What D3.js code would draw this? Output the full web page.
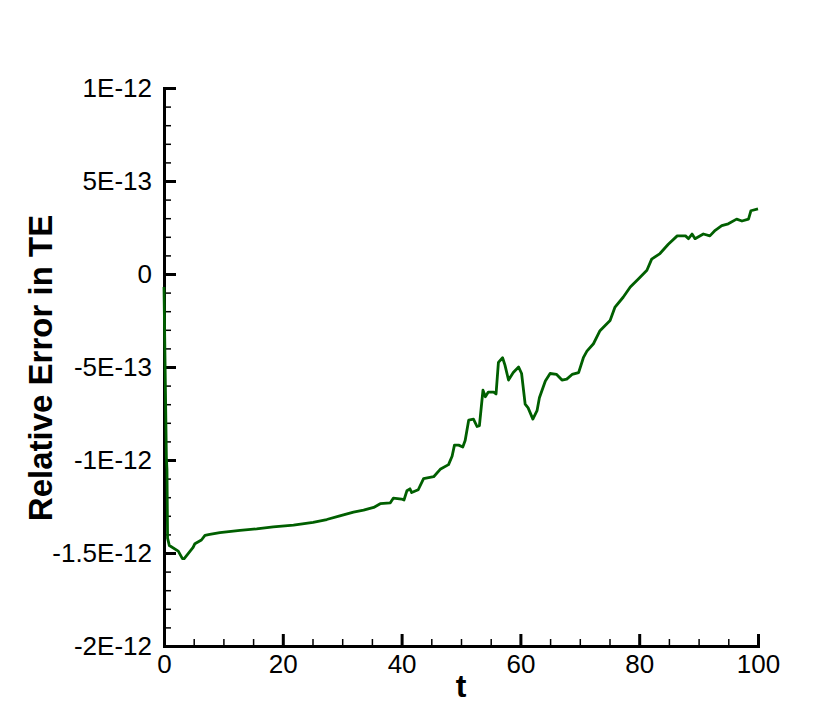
<!DOCTYPE html>
<html>
<head>
<meta charset="utf-8">
<script src="https://cdn.jsdelivr.net/npm/d3@7"></script>
<style>
    body { margin: 0; background: #fff; }
    svg text { font-family: "Liberation Sans", Arial, sans-serif; }
</style>
</head>
<body>
<div id="chart"></div>
<script>
// Time values (t)
const tValues = [0, 0.4, 0.5, 0.6, 0.9, 2.4, 3.1, 3.4, 4.4, 4.9, 5.2, 6.3, 6.9, 7.7, 9.4,
    12.8, 15.6, 18.4, 21.8, 25.1, 27.4, 29.6, 31.9, 33.6, 35.3, 36.4, 38.1, 38.6, 40.0,
    40.4, 40.9, 41.4, 41.7, 42.8, 43.7, 45.4, 46.5, 47.9, 48.5, 48.9, 49.6, 50.3, 50.7,
    51.3, 52.1, 52.7, 53.1, 53.7, 54.1, 54.6, 55.5, 55.9, 56.3, 57.0, 57.4, 58.0, 58.8,
    59.7, 60.2, 60.8, 61.3, 62.1, 62.8, 63.2, 64.2, 65.0, 66.1, 67.0, 67.8, 68.7, 69.8,
    70.6, 71.2, 72.3, 73.4, 75.1, 75.9, 77.3, 78.5, 79.9, 81.3, 82.1, 83.5, 84.9, 86.4,
    87.8, 88.3, 88.9, 89.4, 90.8, 91.9, 92.8, 93.9, 95.0, 96.4, 97.3, 98.4, 98.8, 100];

// Relative error in TE, in units of 1E-13
const errValues = [-0.7, -9.9, -10.5, -14.2, -14.6, -14.9, -15.3, -15.3, -14.9, -14.7, -14.5, -14.3, -14.05, -14.0, -13.9,
    -13.78, -13.7, -13.6, -13.5, -13.35, -13.2, -13.0, -12.8, -12.7, -12.55, -12.35, -12.3, -12.05, -12.1,
    -12.15, -11.65, -11.55, -11.75, -11.6, -11.0, -10.9, -10.5, -10.25, -9.8, -9.2, -9.2, -9.3, -8.95,
    -7.85, -7.8, -8.2, -8.15, -6.25, -6.6, -6.35, -6.35, -6.45, -4.75, -4.5, -4.9, -5.7, -5.3,
    -5.0, -5.35, -7.0, -7.2, -7.8, -7.35, -6.65, -5.75, -5.35, -5.4, -5.7, -5.65, -5.4, -5.3,
    -4.5, -4.15, -3.75, -3.05, -2.5, -1.8, -1.25, -0.7, -0.25, 0.2, 0.8, 1.1, 1.6, 2.05,
    2.05, 1.9, 2.15, 1.9, 2.15, 2.05, 2.35, 2.6, 2.7, 2.95, 2.85, 2.95, 3.4, 3.5];

// Axis ticks
const xTicks = [0, 20, 40, 60, 80, 100];
const xMinorTicks = d3.range(0, 101, 5);
const yTicks = [10, 5, 0, -5, -10, -15, -20];
const yTickLabels = ["1E-12", "5E-13", "0", "-5E-13", "-1E-12", "-1.5E-12", "-2E-12"];
const yMinorTicks = d3.range(-20, 11, 1);

const totalWidth = 818, totalHeight = 727;
const margin = {top: 88, right: 60, bottom: 81, left: 164};
const width = totalWidth - margin.left - margin.right;
const height = totalHeight - margin.top - margin.bottom;

const svg = d3.select("#chart")
    .append("svg")
    .attr("width", totalWidth)
    .attr("height", totalHeight)
    .append("g")
    .attr("transform", `translate(${margin.left},${margin.top})`);

const xScale = d3.scaleLinear().domain([0, 100]).range([0, width]);
const yScale = d3.scaleLinear().domain([-20, 10]).range([height, 0]);

// Minor ticks (pointing inward)
svg.append("g")
    .attr("transform", `translate(0,${height})`)
    .call(d3.axisBottom(xScale).tickValues(xMinorTicks).tickSize(-7).tickFormat(""))
    .call(g => g.select(".domain").remove())
    .call(g => g.selectAll("line").attr("stroke", "#000").attr("stroke-width", 1.5));

svg.append("g")
    .call(d3.axisLeft(yScale).tickValues(yMinorTicks).tickSize(-7).tickFormat(""))
    .call(g => g.select(".domain").remove())
    .call(g => g.selectAll("line").attr("stroke", "#000").attr("stroke-width", 1.5));

// Major ticks and labels
svg.append("g")
    .attr("transform", `translate(0,${height})`)
    .call(d3.axisBottom(xScale).tickValues(xTicks).tickSizeInner(-12).tickSizeOuter(0).tickPadding(9)
        .tickFormat(d3.format("d")))
    .call(g => g.select(".domain").attr("stroke-width", 3).attr("stroke-linecap", "square"))
    .call(g => g.selectAll("line").attr("stroke-width", 3))
    .call(g => g.selectAll("text").attr("fill", "#000").style("font-size", "26px"));

svg.append("g")
    .call(d3.axisLeft(yScale).tickValues(yTicks).tickSizeInner(-12).tickSizeOuter(0).tickPadding(12)
        .tickFormat((d, i) => yTickLabels[i]))
    .call(g => g.select(".domain").attr("stroke-width", 3).attr("stroke-linecap", "square"))
    .call(g => g.selectAll("line").attr("stroke-width", 3))
    .call(g => g.selectAll("text").attr("fill", "#000").style("font-size", "26px"));

// Data line
const line = d3.line()
    .x((d, i) => xScale(tValues[i]))
    .y(d => yScale(d));

svg.append("path")
    .datum(errValues)
    .attr("fill", "none")
    .attr("stroke", "#005f00")
    .attr("stroke-width", 2.8)
    .attr("stroke-linejoin", "round")
    .attr("d", line);

// Axis titles
svg.append("text")
    .attr("x", width / 2)
    .attr("y", height + 51)
    .attr("text-anchor", "middle")
    .style("font-size", "32px")
    .style("font-weight", "bold")
    .text("t");

svg.append("text")
    .attr("transform", "rotate(-90)")
    .attr("x", -(368 - margin.top))
    .attr("y", 52 - margin.left)
    .attr("text-anchor", "middle")
    .style("font-size", "33px")
    .style("font-weight", "bold")
    .text("Relative Error in TE");
</script>
</body>
</html>
